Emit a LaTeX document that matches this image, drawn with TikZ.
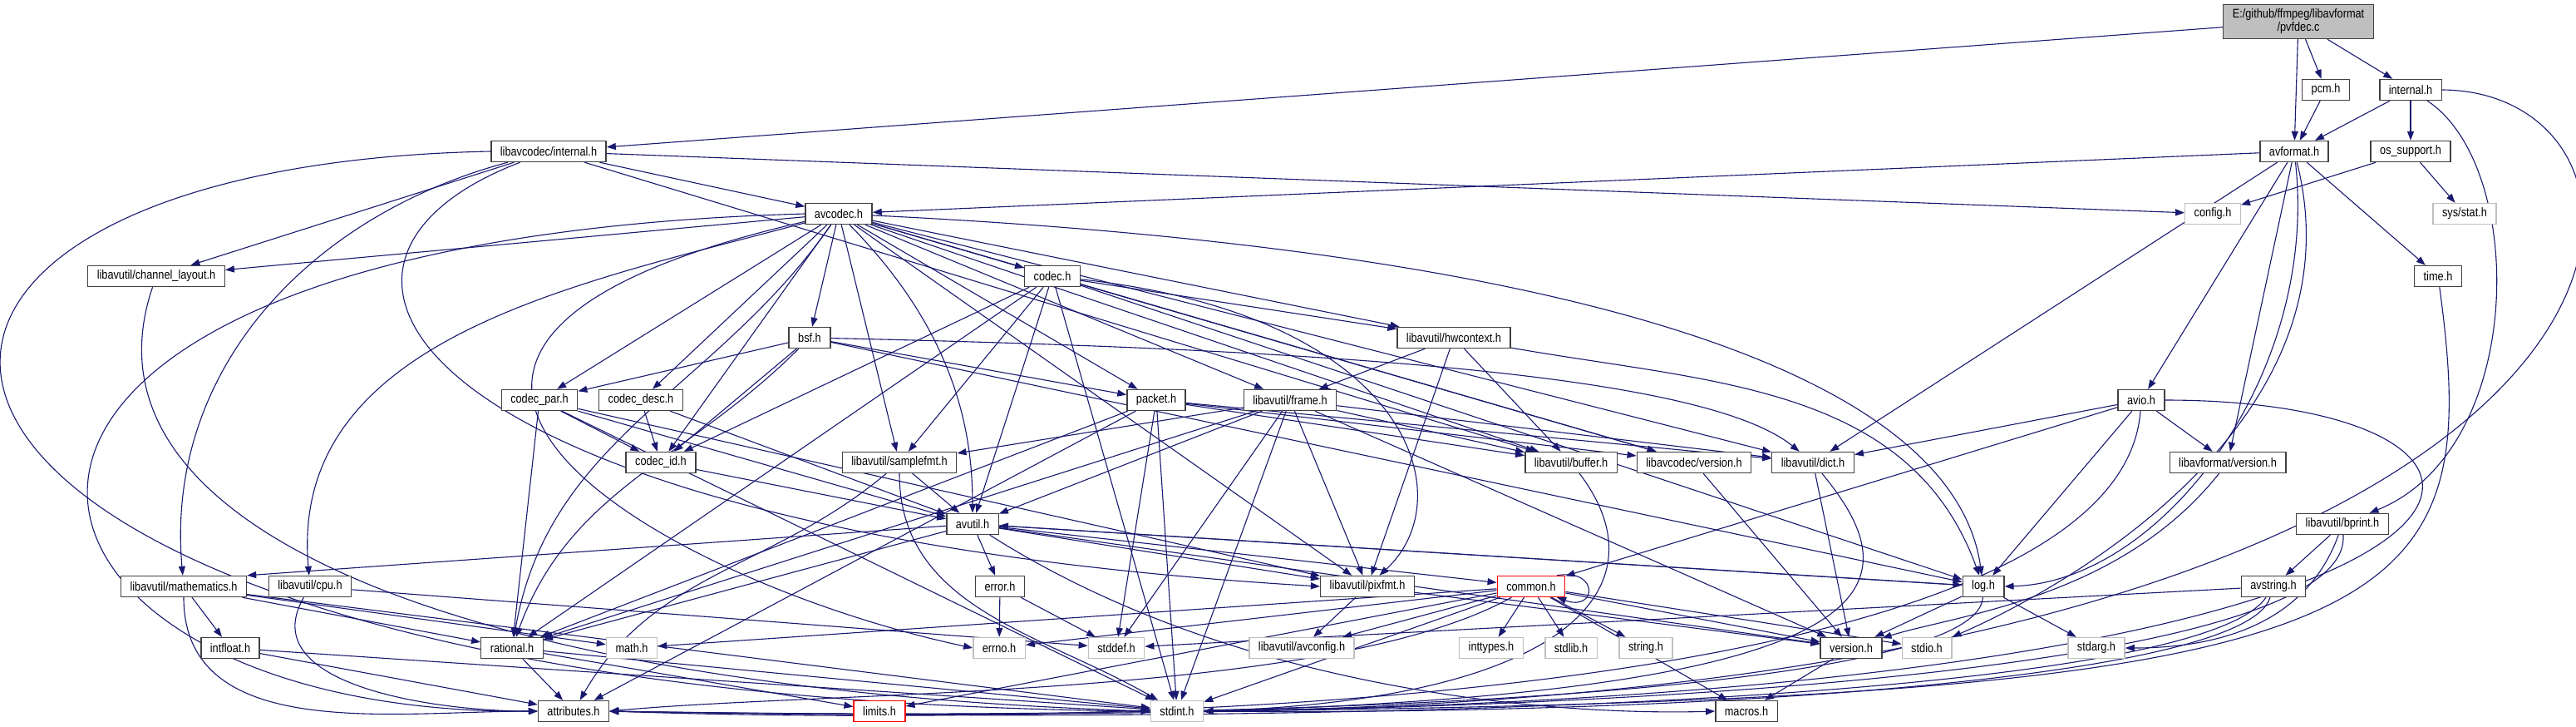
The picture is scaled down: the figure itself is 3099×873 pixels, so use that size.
\documentclass[tikz,border=0pt]{standalone}
\usepackage{fontspec}
\setmainfont{Liberation Sans}[FakeStretch=0.85]
\usetikzlibrary{arrows.meta,backgrounds}
\definecolor{edgec}{HTML}{191970}
\definecolor{framec}{HTML}{404040}
\definecolor{sysc}{HTML}{BFBFBF}
\definecolor{rootc}{HTML}{BFBFBF}
\newcommand{\doxfont}{\fontsize{15}{16}\selectfont}
\tikzset{
  fbox/.style={draw=framec,line width=1.4pt,fill=white,minimum height=25pt,inner xsep=11pt,inner ysep=2pt,font=\doxfont},
  sbox/.style={fbox,draw=sysc},
  tbox/.style={fbox,draw=red},
  rbox/.style={fbox,fill=rootc,align=center,minimum height=41pt},
  ar/.style={-{Triangle[length=11pt,width=8pt]},line width=1.1pt,edgec}
}

\begin{document}
\begin{tikzpicture}[x=1pt,y=1pt]
\useasboundingbox (0,0) rectangle (3099,-873);
\node[rbox] (pvfdec) at (2765,-26) {E:/github/ffmpeg/libavformat\\/pvfdec.c};
\node[fbox] (pcm) at (2798,-108) {pcm.h};
\node[fbox] (internalf) at (2900,-108) {internal.h};
\node[fbox] (avformat) at (2760,-182) {avformat.h};
\node[fbox] (ossupport) at (2900,-182) {os\_support.h};
\node[fbox] (lavcinternal) at (660,-182) {libavcodec/internal.h};
\node[sbox] (config) at (2662,-257) {config.h};
\node[sbox] (sysstat) at (2965,-257) {sys/stat.h};
\node[fbox] (avcodec) at (1009,-257) {avcodec.h};
\node[fbox] (timeh) at (2933,-332) {time.h};
\node[fbox] (codec) at (1266,-332) {codec.h};
\node[fbox] (chlayout) at (188,-332) {libavutil/channel\_layout.h};
\node[fbox] (hwcontext) at (1749,-406) {libavutil/hwcontext.h};
\node[fbox] (bsf) at (974,-406) {bsf.h};
\node[fbox] (codecpar) at (649,-481) {codec\_par.h};
\node[fbox] (codecdesc) at (771,-481) {codec\_desc.h};
\node[fbox] (packet) at (1391,-481) {packet.h};
\node[fbox] (frame) at (1552,-481) {libavutil/frame.h};
\node[fbox] (avio) at (2576,-481) {avio.h};
\node[fbox] (codecid) at (795,-556) {codec\_id.h};
\node[fbox] (samplefmt) at (1082,-556) {libavutil/samplefmt.h};
\node[fbox] (buffer) at (1890,-556) {libavutil/buffer.h};
\node[fbox] (lavcversion) at (2038,-556) {libavcodec/version.h};
\node[fbox] (dict) at (2181,-556) {libavutil/dict.h};
\node[fbox] (lavfversion) at (2680,-556) {libavformat/version.h};
\node[fbox] (avutil) at (1170,-630) {avutil.h};
\node[fbox] (bprint) at (2818,-630) {libavutil/bprint.h};
\node[fbox] (mathematics) at (221,-705) {libavutil/mathematics.h};
\node[fbox] (cpu) at (373,-705) {libavutil/cpu.h};
\node[fbox] (error) at (1203,-705) {error.h};
\node[fbox] (pixfmt) at (1645,-705) {libavutil/pixfmt.h};
\node[tbox] (common) at (1842,-705) {common.h};
\node[fbox] (log) at (2386,-705) {log.h};
\node[fbox] (avstring) at (2735,-705) {avstring.h};
\node[fbox] (intfloat) at (277,-779) {intfloat.h};
\node[fbox] (rational) at (616,-779) {rational.h};
\node[sbox] (mathh) at (760,-779) {math.h};
\node[sbox] (errno) at (1202,-779) {errno.h};
\node[sbox] (stddef) at (1343,-779) {stddef.h};
\node[sbox] (avconfig) at (1566,-779) {libavutil/avconfig.h};
\node[sbox] (inttypes) at (1794,-779) {inttypes.h};
\node[sbox] (stdlib) at (1890,-779) {stdlib.h};
\node[sbox] (string) at (1980,-779) {string.h};
\node[fbox] (version) at (2227,-779) {version.h};
\node[sbox] (stdio) at (2318,-779) {stdio.h};
\node[sbox] (stdarg) at (2522,-779) {stdarg.h};
\node[fbox] (attributes) at (690,-855) {attributes.h};
\node[tbox] (limits) at (1058,-855) {limits.h};
\node[sbox] (stdint) at (1416,-855) {stdint.h};
\node[fbox] (macros) at (2101,-855) {macros.h};
\begin{scope}[on background layer]
\fill[white] (0,0) rectangle (3099,-873);
\foreach \t in {lavcinternal,avformat,pcm,internalf} \draw[ar] (pvfdec) -- (\t);
\draw[ar] (pcm) -- (avformat);
\foreach \t in {avformat,ossupport} \draw[ar] (internalf) -- (\t);
\draw[ar] (internalf) .. controls (3040,-200) and (3040,-540) .. (bprint);
\draw[ar] (internalf.east) .. controls (3270,-110) and (3270,-830) .. (stdint.east);
\foreach \t in {config,sysstat} \draw[ar] (ossupport) -- (\t);
\foreach \t in {avcodec,avio,lavfversion,timeh,dict} \draw[ar] (avformat) -- (\t);
\draw[ar] (avformat) .. controls (2840,-500) and (2500,-700) .. (stdio);
\draw[ar] (avformat) .. controls (2790,-450) and (2600,-700) .. (log.east);
\foreach \t in {avcodec,config,chlayout,buffer} \draw[ar] (lavcinternal) -- (\t);
\draw[ar] (lavcinternal) to[out=195,in=95] (mathematics);
\draw[ar] (lavcinternal.west) .. controls (-330,-200) and (-250,-840) .. (stdint.west);
\draw[ar] (lavcinternal) .. controls (300,-320) and (500,-640) .. (pixfmt.west);
\foreach \t in {samplefmt,buffer,chlayout,dict,frame,hwcontext,pixfmt,codec,codecdesc,codecpar,codecid,packet,lavcversion,bsf} \draw[ar] (avcodec) -- (\t);
\draw[ar] (avcodec.west) .. controls (-200,-290) and (-50,-860) .. (attributes.west);
\draw[ar] (avcodec) to[out=195,in=95] (cpu);
\draw[ar] (avcodec) to[out=235,in=80] (rational);
\draw[ar] (avcodec) .. controls (300,-420) and (800,-700) .. (errno.west);
\draw[ar] (avcodec) .. controls (1150,-400) and (1170,-520) .. (avutil);
\draw[ar] (avcodec) .. controls (1900,-300) and (2350,-450) .. (log);
\draw[ar] (timeh) .. controls (2990,-750) and (2900,-840) .. (stdint.east);
\foreach \t in {stdint,avutil,hwcontext,log,rational,samplefmt,codecid,lavcversion} \draw[ar] (codec) -- (\t);
\draw[ar] (codec) .. controls (1700,-380) and (1760,-600) .. (pixfmt);
\draw[ar] (chlayout) .. controls (80,-650) and (600,-830) .. (stdint.west);
\foreach \t in {buffer,frame,pixfmt} \draw[ar] (hwcontext) -- (\t);
\draw[ar] (hwcontext) to[out=-10,in=110] (log);
\foreach \t in {log,codecid,codecpar,packet} \draw[ar] (bsf) -- (\t);
\draw[ar] (bsf) .. controls (1600,-420) and (2050,-450) .. (dict);
\draw[ar] (bsf) to[out=225,in=70] (rational);
\foreach \t in {stdint,avutil,rational,pixfmt,codecid} \draw[ar] (codecpar) -- (\t);
\foreach \t in {avutil,codecid} \draw[ar] (codecdesc) -- (\t);
\foreach \t in {stddef,stdint,attributes,buffer,dict,rational,lavcversion} \draw[ar] (packet) -- (\t);
\foreach \t in {stddef,stdint,avutil,buffer,dict,rational,samplefmt,pixfmt,version} \draw[ar] (frame) -- (\t);
\foreach \t in {common,dict,log,lavfversion} \draw[ar] (avio) -- (\t);
\draw[ar] (avio.east) .. controls (3130,-481) and (3130,-830) .. (stdint.east);
\draw[ar] (avio) .. controls (2550,-820) and (1500,-880) .. (attributes.east);
\draw[ar] (codecid) -- (avutil);
\draw[ar] (samplefmt) -- (avutil);
\draw[ar] (samplefmt) to[out=270,in=150] (stdint);
\draw[ar] (samplefmt) to[out=220,in=60] (attributes);
\draw[ar] (buffer) .. controls (2000,-700) and (1900,-840) .. (stdint.east);
\draw[ar] (lavcversion) -- (version);
\draw[ar] (dict) -- (version);
\draw[ar] (dict) .. controls (2300,-700) and (2300,-830) .. (stdint.east);
\draw[ar] (lavfversion) .. controls (2550,-720) and (2350,-740) .. (version);
\foreach \t in {common,error,rational,version,log,pixfmt} \draw[ar] (avutil) -- (\t);
\draw[ar] (avutil) -- (mathematics.north east);
\draw[ar] (avutil) .. controls (1500,-840) and (1900,-860) .. (macros.west);
\draw[ar] (bprint) -- (avstring);
\draw[ar] (bprint) .. controls (2830,-800) and (2000,-875) .. (attributes.east);
\draw[ar] (bprint) to[out=250,in=0] (stdarg);
\foreach \t in {stdint,mathh,rational,intfloat} \draw[ar] (mathematics) -- (\t);
\draw[ar] (mathematics) to[out=270,in=180] (attributes);
\draw[ar] (cpu) -- (stddef);
\draw[ar] (cpu) to[out=240,in=180] (attributes);
\foreach \t in {errno,stddef} \draw[ar] (error) -- (\t);
\foreach \t in {avconfig,version} \draw[ar] (pixfmt) -- (\t);
\foreach \t in {errno,inttypes,limits,mathh,stdint,stdio,stdlib,string,macros,version,avconfig} \draw[ar] (common) -- (\t);
\draw[ar] (common) .. controls (1600,-840) and (1000,-830) .. (attributes.east);
\draw[ar] (common.23) to[out=10,in=-20,looseness=5] (common.-23);
\foreach \t in {avutil,version,stdarg} \draw[ar] (log) -- (\t);
\draw[ar] (log) .. controls (2380,-830) and (1600,-870) .. (attributes.east);
\draw[ar] (avstring) -- (stddef);
\draw[ar] (avstring) .. controls (2700,-820) and (2000,-860) .. (stdint.east);
\draw[ar] (avstring) .. controls (2650,-830) and (1800,-875) .. (attributes.east);
\foreach \t in {stdint,attributes} \draw[ar] (intfloat) -- (\t);
\foreach \t in {stdint,limits,attributes} \draw[ar] (rational) -- (\t);
\draw[ar] (version) -- (macros);
\end{scope}
\end{tikzpicture}
\end{document}
